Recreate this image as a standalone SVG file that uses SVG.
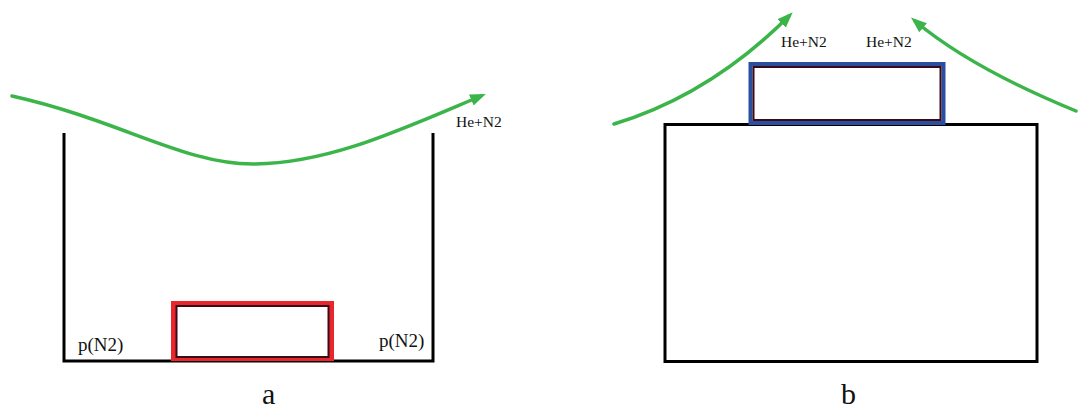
<svg xmlns="http://www.w3.org/2000/svg" width="1084" height="410" viewBox="0 0 1084 410">
<style>
.wall{fill:none;stroke:#000;stroke-width:3}
.flow{fill:none;stroke:#3bb54a;stroke-width:3.5;stroke-linecap:round}
.inner{fill:#fff;stroke:#3a0a16;stroke-width:2}
.lbl{font-family:"Liberation Serif",serif;fill:#111}
.small{font-size:15.5px}
.mid{font-size:19px}
.big{font-size:30px}
</style>
<defs>
<marker id="ah" markerWidth="5" markerHeight="5" refX="3" refY="2.5" orient="auto" markerUnits="strokeWidth">
<path d="M0,0.8 L4.5,2.5 L0,4.2 Z" fill="#3bb54a"/>
</marker>
</defs>
<rect width="1084" height="410" fill="#fff"/>
<g id="container-a">
<path class="wall" d="M64,133 V361 H433 V133"/>
</g>
<g id="sample-a">
<rect x="173.5" y="303.5" width="158" height="55" fill="none" stroke="#e8262b" stroke-width="5"/>
<rect class="inner" x="176.5" y="306" width="152" height="51"/>
</g>
<g id="block-b">
<rect class="wall" x="665" y="124.5" width="372" height="237"/>
</g>
<g id="sample-b">
<rect x="750.5" y="64" width="193" height="59" fill="none" stroke="#2b4fa0" stroke-width="4"/>
<rect class="inner" x="753.5" y="67" width="187" height="53"/>
</g>
<g id="connectors">
<path class="flow" marker-end="url(#ah)" d="M12,96 C120,120 185,165 255,164 C330,163 400,130 481,96"/>
<path class="flow" marker-end="url(#ah)" d="M614,124 Q710,95 789,16"/>
<path class="flow" marker-end="url(#ah)" d="M1076,111 Q971,68 915,21"/>
</g>
<g id="labels">
<text class="lbl small" x="456" y="127">He+N2</text>
<text class="lbl small" x="781" y="47">He+N2</text>
<text class="lbl small" x="866" y="47">He+N2</text>
<text class="lbl mid" x="78" y="351">p(N2)</text>
<text class="lbl mid" x="379" y="347">p(N2)</text>
<text class="lbl big" x="262" y="404">a</text>
<text class="lbl big" x="841" y="404">b</text>
</g>
</svg>
